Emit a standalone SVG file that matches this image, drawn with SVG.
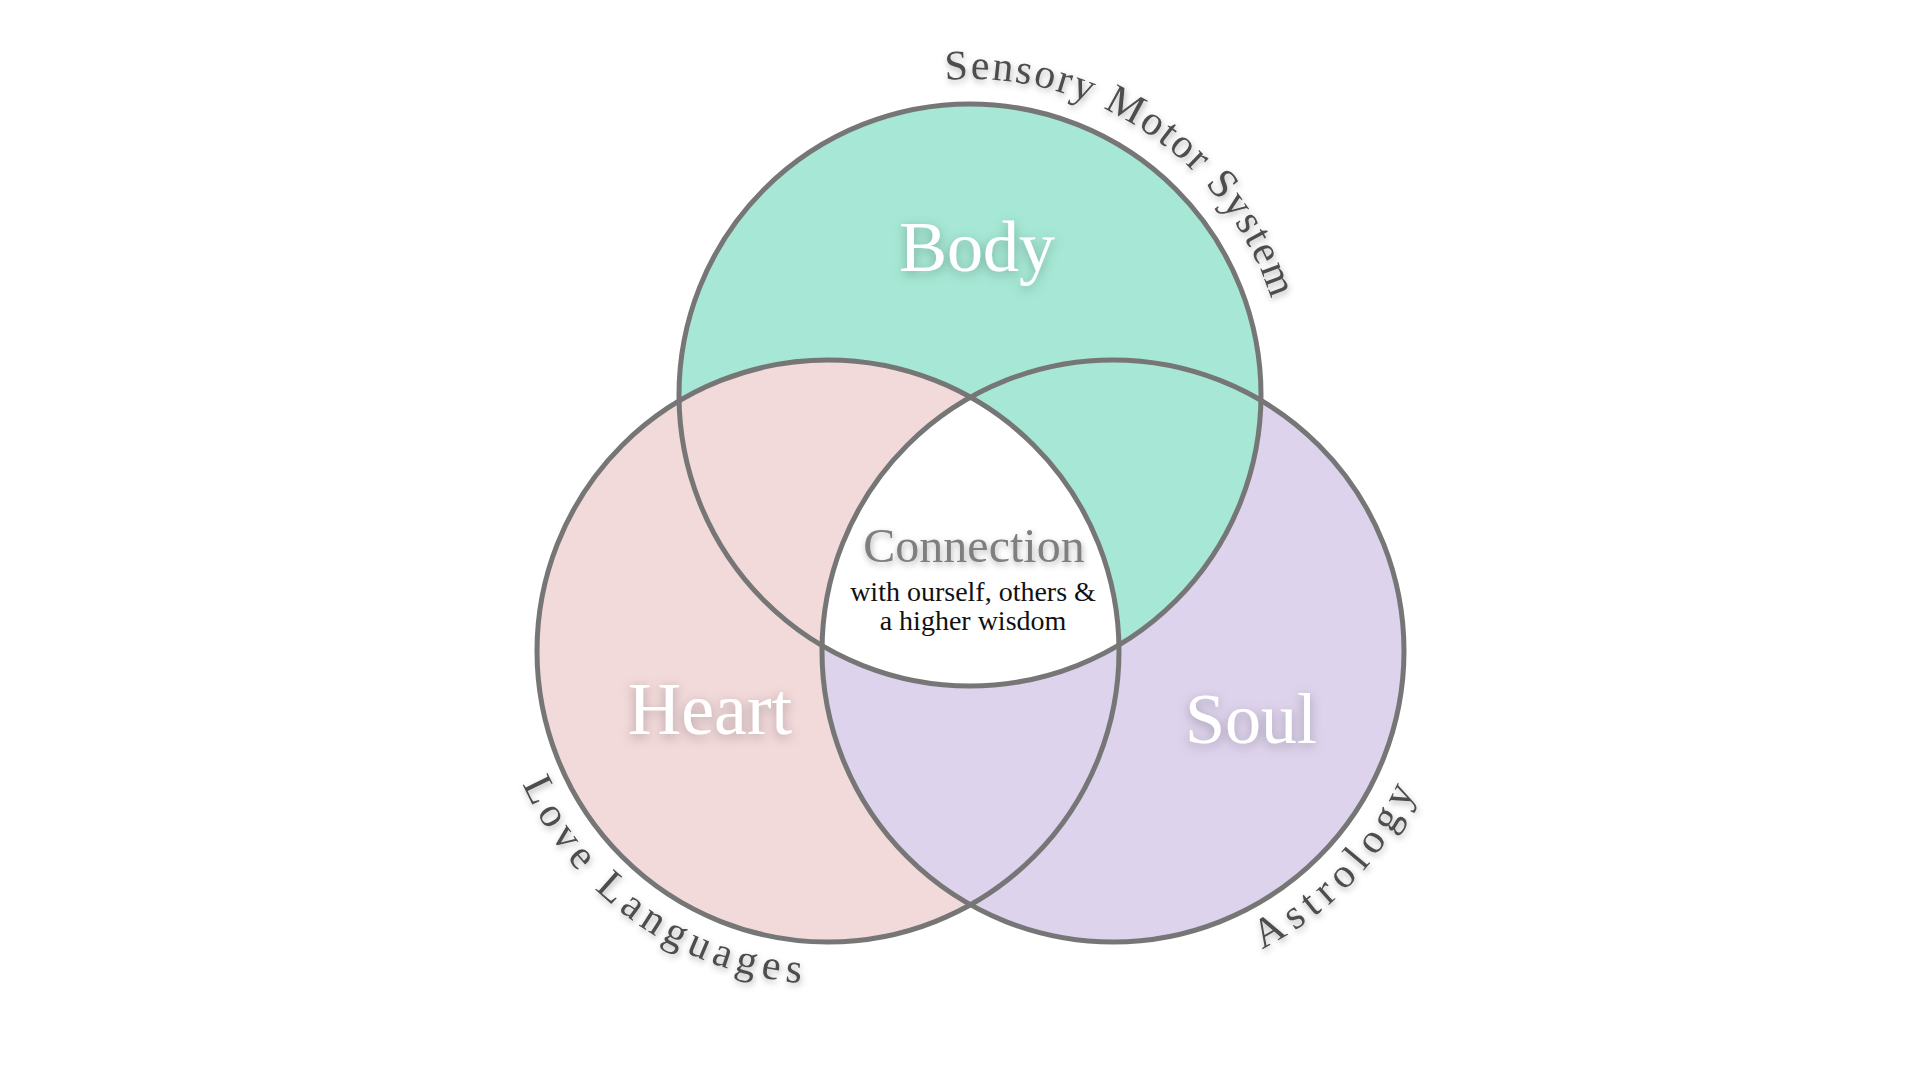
<svg xmlns="http://www.w3.org/2000/svg" xmlns:xlink="http://www.w3.org/1999/xlink" width="1920" height="1080" viewBox="0 0 1920 1080">
  <defs>
    <style>
      .ring { fill: none; stroke: #767676; stroke-width: 5; }
      .big { font-family: "Liberation Serif", "DejaVu Serif", serif; font-size: 74px; fill: #ffffff; text-anchor: middle; filter: url(#glow); }
      .arc { font-family: "Liberation Serif", "DejaVu Serif", serif; font-size: 42px; fill: #4d4d4d; filter: url(#soft); }
      .conn { font-family: "Liberation Serif", "DejaVu Serif", serif; font-size: 48px; fill: #7f7f7f; text-anchor: middle; filter: url(#soft); }
      .sub { font-family: "Liberation Serif", "DejaVu Serif", serif; font-size: 28px; fill: #111111; text-anchor: middle; }
    </style>
    <filter id="glow" x="-30%" y="-40%" width="160%" height="180%">
      <feDropShadow dx="0" dy="3" stdDeviation="6" flood-color="#000000" flood-opacity="0.28"/>
    </filter>
    <filter id="soft" x="-20%" y="-40%" width="140%" height="180%">
      <feDropShadow dx="1" dy="3" stdDeviation="3" flood-color="#000000" flood-opacity="0.3"/>
    </filter>
    <clipPath id="clipSoul">
      <circle cx="1113" cy="651" r="291"/>
    </clipPath>
    <path id="arcBody" d="M 945.2 80 A 316 316 0 0 1 1286 395"/>
    <path id="arcHeart" d="M 522.6 783.8 A 333 333 0 0 0 885.8 979"/>
    <path id="arcSoul" d="M 1262 949 A 333 333 0 0 0 1434.7 737.2"/>
  </defs>

  <rect x="0" y="0" width="1920" height="1080" fill="#ffffff"/>

  <g id="regions">
    <circle cx="970" cy="395" r="291" fill="#a6e8d5"/>
    <circle cx="828" cy="651" r="291" fill="#f2d9da"/>
    <circle cx="1113" cy="651" r="291" fill="#ded3ec"/>
    <circle cx="970" cy="395" r="291" fill="#a6e8d5" clip-path="url(#clipSoul)"/>
    <path id="center-region" d="M 970.5 397.3 A 291 291 0 0 0 822 645.6 A 291 291 0 0 0 1119 645 A 291 291 0 0 0 970.5 397.3 Z" fill="#ffffff"/>
  </g>

  <g id="connectors"></g>

  <g id="node-body">
    <circle class="ring" cx="970" cy="395" r="291"/>
    <text class="big" x="977" y="271" style="font-size:72px">Body</text>
    <text class="arc" letter-spacing="2"><textPath xlink:href="#arcBody" href="#arcBody">Sensory Motor System</textPath></text>
  </g>

  <g id="node-heart">
    <circle class="ring" cx="828" cy="651" r="291"/>
    <text class="big" x="710" y="734">Heart</text>
    <text class="arc" letter-spacing="6.2"><textPath xlink:href="#arcHeart" href="#arcHeart">Love Languages</textPath></text>
  </g>

  <g id="node-soul">
    <circle class="ring" cx="1113" cy="651" r="291"/>
    <text class="big" x="1251" y="743" style="font-size:72px">Soul</text>
    <text class="arc" letter-spacing="7"><textPath xlink:href="#arcSoul" href="#arcSoul">Astrology</textPath></text>
  </g>

  <g id="node-connection">
    <text class="conn" x="974" y="562">Connection</text>
    <text class="sub" x="973" y="601">with ourself, others &amp;</text>
    <text class="sub" x="973" y="630">a higher wisdom</text>
  </g>
</svg>
